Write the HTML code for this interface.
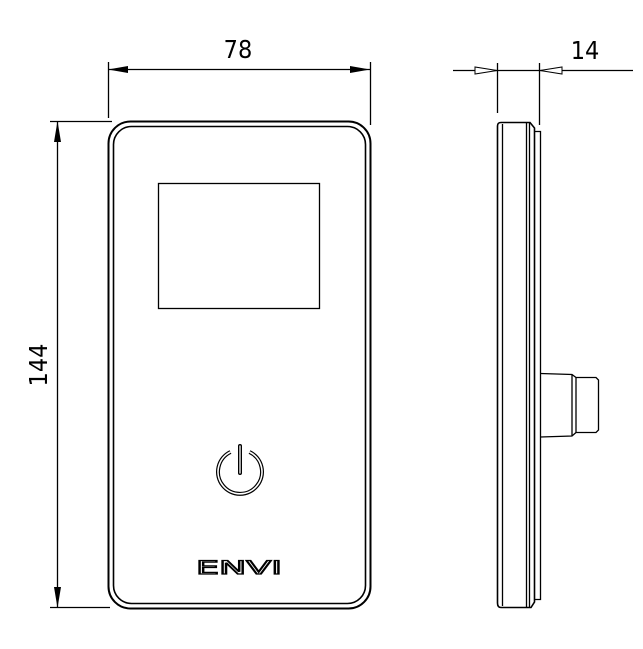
<!DOCTYPE html>
<html><head><meta charset="utf-8"><style>html,body{margin:0;padding:0;background:#fff}</style></head>
<body>
<svg width="643" height="644" viewBox="0 0 643 644" xmlns="http://www.w3.org/2000/svg" font-family="'DejaVu Sans', 'Liberation Sans', sans-serif">
<g fill="none" stroke="#000" stroke-width="1.3">
<rect x="108.5" y="121.5" width="262" height="487" rx="22" stroke-width="2"/>
<rect x="113.5" y="126.5" width="252" height="477" rx="18" stroke-width="1.6"/>
<rect x="158.5" y="183.5" width="161" height="125"/>
<path d="M230.5 452 A22 22 0 1 0 249.5 452" stroke-width="4"/>
<path d="M230.5 452 A22 22 0 1 0 249.5 452" stroke="#fff" stroke-width="1.6"/>
<line x1="240" y1="446" x2="240" y2="473" stroke-width="4" stroke-linecap="round"/>
<line x1="240" y1="446" x2="240" y2="473" stroke="#fff" stroke-width="1.3" stroke-linecap="round"/>
<line x1="108.5" y1="62" x2="108.5" y2="118"/>
<line x1="370.5" y1="62" x2="370.5" y2="125"/>
<line x1="108" y1="69.5" x2="370" y2="69.5"/>
<line x1="50" y1="121.5" x2="112" y2="121.5"/>
<line x1="50" y1="607.5" x2="110" y2="607.5"/>
<line x1="57.5" y1="121" x2="57.5" y2="608"/>
<line x1="453" y1="70.5" x2="633" y2="70.5"/>
<line x1="497.5" y1="63" x2="497.5" y2="113"/>
<line x1="539.5" y1="63" x2="539.5" y2="125"/>
<path d="M497.5 126 Q497.5 122.5 501 122.5 L530 122.5 L534.5 128 L534.5 602 L531 607.5 L501 607.5 Q497.5 607.5 497.5 603 Z" stroke-width="1.6"/>
<line x1="502.5" y1="124" x2="502.5" y2="606"/>
<line x1="526.5" y1="123" x2="526.5" y2="607"/>
<line x1="529.5" y1="123" x2="529.5" y2="607"/>
<path d="M534.5 131.5 L540.5 131.5 L540.5 599.5 L534.5 599.5"/>
<path d="M540.5 373.5 L572 374.5 L576 377.5 L596 377.5 L598.5 380 L598.5 430 L596 432.5 L576 432.5 L572 436 L540.5 437"/>
<line x1="572" y1="375" x2="572" y2="436"/>
<line x1="576" y1="377.5" x2="576" y2="432.5"/>
</g>
<g fill="#000">
<polygon points="108,69.5 128,66 128,73"/>
<polygon points="370,69.5 350,66 350,73"/>
<polygon points="57.5,121 54,142 61,142"/>
<polygon points="57.5,608 54,587 61,587"/>
</g>
<g fill="#fff" stroke="#000" stroke-width="1">
<polygon points="497,70.5 475,67 475,74"/>
<polygon points="540,70.5 562,67 562,74"/>
</g>
<text x="238" y="58" font-size="25" text-anchor="middle" transform="translate(238,0) scale(0.9,1) translate(-238,0)">78</text>
<text x="585" y="59" font-size="25" text-anchor="middle" transform="translate(585,0) scale(0.9,1) translate(-585,0)">14</text>
<text transform="translate(47,365) rotate(-90) scale(0.9,1)" font-size="25" text-anchor="middle">144</text>
<text x="196" y="574" font-size="19" textLength="86" lengthAdjust="spacingAndGlyphs" fill="none" stroke="#000" stroke-width="1.3">ENVI</text>
</svg>
</body></html>
